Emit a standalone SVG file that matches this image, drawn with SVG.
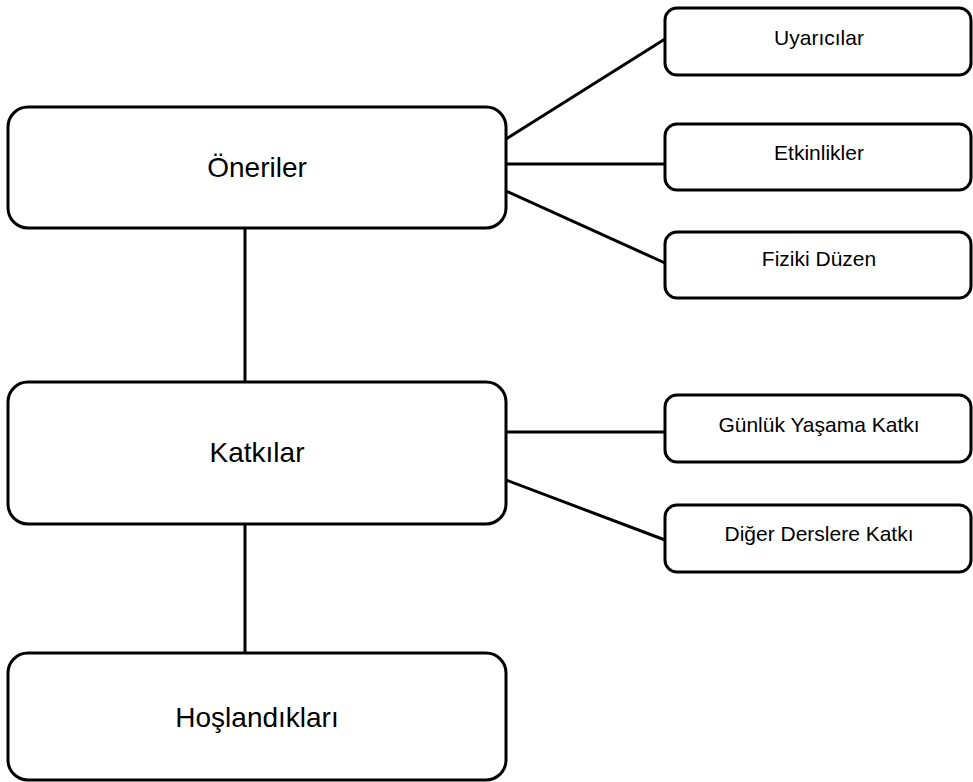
<svg xmlns="http://www.w3.org/2000/svg" width="973" height="782" viewBox="0 0 973 782">
  <style>
    .box { fill: #ffffff; stroke: #000000; stroke-width: 3; }
    .link { fill: none; stroke: #000000; stroke-width: 3; }
    .big { font-family: "Liberation Sans", Arial, sans-serif; font-size: 28px; fill: #000000; text-anchor: middle; }
    .small { font-family: "Liberation Sans", Arial, sans-serif; font-size: 21px; fill: #000000; text-anchor: middle; }
  </style>
  <rect width="973" height="782" fill="#ffffff"/>

  <!-- connectors -->
  <g id="connectors">
    <line class="link" x1="245" y1="228" x2="245" y2="382"/>
    <line class="link" x1="245" y1="524" x2="245" y2="653"/>
    <line class="link" x1="506" y1="139" x2="665" y2="39"/>
    <line class="link" x1="506" y1="164" x2="665" y2="164"/>
    <line class="link" x1="506" y1="191" x2="665" y2="263"/>
    <line class="link" x1="506" y1="432" x2="665" y2="432"/>
    <line class="link" x1="506" y1="480" x2="665" y2="540"/>
  </g>

  <!-- main column -->
  <g id="oneriler">
    <rect class="box" x="8" y="107" width="498" height="121" rx="20" ry="20"/>
    <text class="big" x="257" y="177">Öneriler</text>
  </g>
  <g id="katkilar">
    <rect class="box" x="8" y="382" width="498" height="142" rx="20" ry="20"/>
    <text class="big" x="257" y="462">Katkılar</text>
  </g>
  <g id="hoslandiklari">
    <rect class="box" x="8" y="653" width="498" height="127" rx="20" ry="20"/>
    <text class="big" x="257" y="727">Hoşlandıkları</text>
  </g>

  <!-- branches -->
  <g id="uyaricilar">
    <rect class="box" x="665" y="8" width="306" height="67" rx="12" ry="12"/>
    <text class="small" x="819" y="45">Uyarıcılar</text>
  </g>
  <g id="etkinlikler">
    <rect class="box" x="665" y="124" width="306" height="66" rx="12" ry="12"/>
    <text class="small" x="819" y="160">Etkinlikler</text>
  </g>
  <g id="fiziki-duzen">
    <rect class="box" x="665" y="232" width="306" height="66" rx="12" ry="12"/>
    <text class="small" x="819" y="266">Fiziki Düzen</text>
  </g>
  <g id="gunluk-yasama">
    <rect class="box" x="665" y="395" width="306" height="67" rx="12" ry="12"/>
    <text class="small" x="819" y="432">Günlük Yaşama Katkı</text>
  </g>
  <g id="diger-derslere">
    <rect class="box" x="665" y="505" width="306" height="67" rx="12" ry="12"/>
    <text class="small" x="819" y="541">Diğer Derslere Katkı</text>
  </g>
</svg>
